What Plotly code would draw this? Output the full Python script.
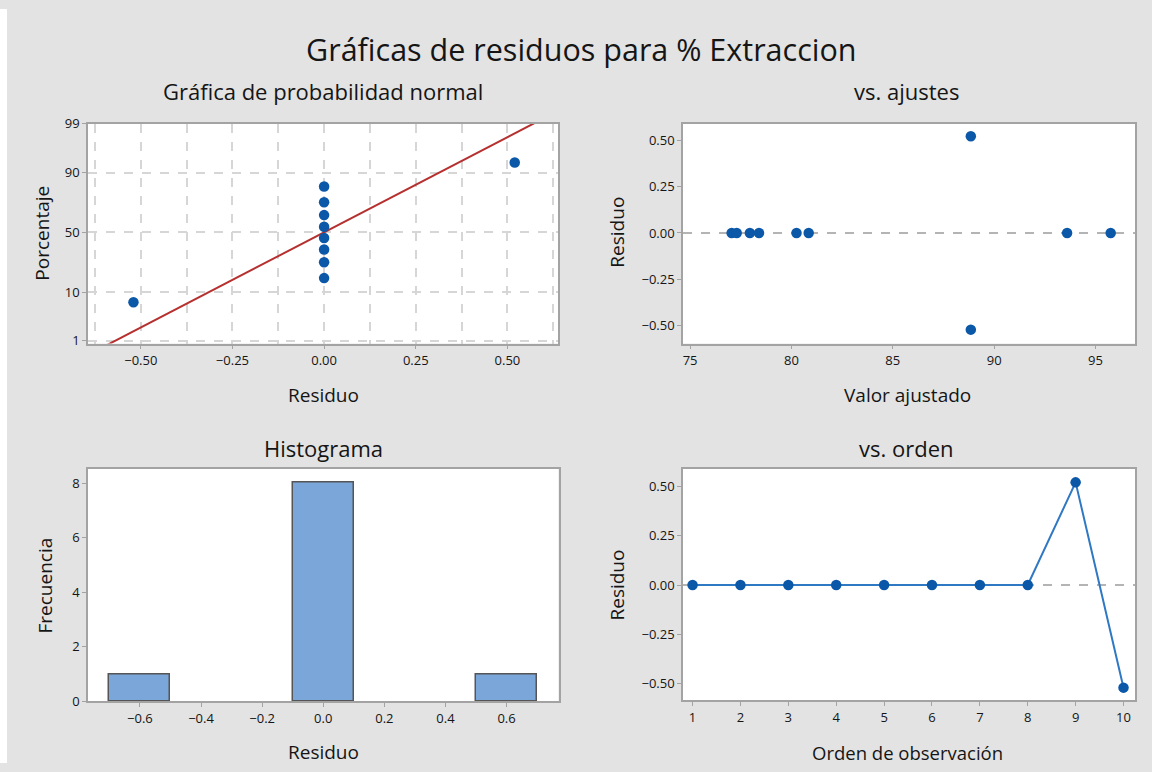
import plotly.graph_objects as go
from statistics import NormalDist

W, H = 1152, 772

# ---------------- data ----------------
# Normal probability plot (sorted residuals and their plotting percentages)
prob_residuals = [-0.52, 0.0, 0.0, 0.0, 0.0, 0.0, 0.0, 0.0, 0.0, 0.52]
prob_percent = [6.7, 16.3, 26.0, 35.6, 45.2, 54.8, 64.4, 74.0, 83.7, 93.3]
prob_ticks = [1, 10, 50, 90, 99]
fit_mean = 0.0
fit_sd = 0.245

# vs. fits / vs. order
obs_order = [1, 2, 3, 4, 5, 6, 7, 8, 9, 10]
fitted = [77.05, 77.3, 77.95, 78.4, 80.25, 80.85, 93.6, 95.75, 88.85, 88.85]
residuals = [0.0, 0.0, 0.0, 0.0, 0.0, 0.0, 0.0, 0.0, 0.52, -0.52]

# Histogram
hist_centers = [-0.6, -0.4, -0.2, 0.0, 0.2, 0.4, 0.6]
hist_counts = [1, 0, 0, 8, 0, 0, 1]
hist_ticks = [-0.6, -0.4, -0.2, 0.0, 0.2, 0.4, 0.6]

# ---------------- styles ----------------
FONT = "Open Sans"
BG = "#E3E3E3"
FRAME = "#A3A3A3"
GRID = "#D6D6D6"
BLUE = "#0B57A8"
LINEBLUE = "#2F78C4"
RED = "#B5302E"
REF = "#B4B4B4"
TXT = "#151515"

nd = NormalDist()
z = lambda p: nd.inv_cdf(p / 100.0)

# the page is shown with a small top offset and slight vertical squeeze;
# convert target screen rows to figure rows
OFF, SC = 8.3, 0.977


def fy(t):
    return (t - OFF) / SC


def dx(a, b):
    return [a / W, b / W]


def dy(top, bottom):
    return [1 - fy(bottom) / H, 1 - fy(top) / H]


fig = go.Figure()

# ---- panel 1: normal probability ----
zline = [-3.0, 3.0]
fig.add_trace(go.Scatter(
    x=[fit_mean + fit_sd * v for v in zline], y=zline, mode="lines",
    line=dict(color=RED, width=2), xaxis="x", yaxis="y", showlegend=False))
fig.add_trace(go.Scatter(
    x=prob_residuals, y=[z(p) for p in prob_percent], mode="markers",
    marker=dict(color=BLUE, size=10.5), xaxis="x", yaxis="y", showlegend=False))

# ---- panel 2: vs fits ----
fig.add_trace(go.Scatter(
    x=fitted, y=residuals, mode="markers",
    marker=dict(color=BLUE, size=10.5), xaxis="x2", yaxis="y2", showlegend=False))

# ---- panel 3: histogram (empty bins are not drawn) ----
hx = [c for c, n in zip(hist_centers, hist_counts) if n > 0]
hy = [n for n in hist_counts if n > 0]
fig.add_trace(go.Bar(
    x=hx, y=hy, width=0.2,
    marker=dict(color="#7BA6DA", line=dict(color="#555555", width=1.5)),
    xaxis="x3", yaxis="y3", showlegend=False))

# ---- panel 4: vs order ----
fig.add_trace(go.Scatter(
    x=obs_order, y=residuals, mode="lines+markers",
    line=dict(color=LINEBLUE, width=2),
    marker=dict(color=BLUE, size=10.5), xaxis="x4", yaxis="y4", showlegend=False))

tickfont = dict(family=FONT, size=13, color=TXT)
common = dict(showline=True, mirror=True, linecolor=FRAME, linewidth=1.5,
              ticks="outside", ticklen=4, tickcolor=FRAME, tickfont=tickfont,
              zeroline=False)
grid = dict(showgrid=True, gridcolor=GRID, griddash="dash", gridwidth=1.5)

fig.update_layout(
    width=W, height=H,
    margin=dict(l=0, r=0, t=0, b=0),
    paper_bgcolor=BG, plot_bgcolor="white",
    font=dict(family=FONT, color=TXT),
    bargap=0,
    xaxis=dict(domain=dx(88, 558), range=[-0.644, 0.638], anchor="y",
               tickvals=[-0.5, -0.25, 0.0, 0.25, 0.5], tickformat=".2f",
               minor=dict(dtick=0.125, tick0=0, showgrid=True, gridcolor=GRID,
                          griddash="dash", gridwidth=1.5),
               **grid, **common),
    yaxis=dict(domain=dy(123, 343), range=[-2.386, 2.33], anchor="x",
               tickvals=[z(p) for p in prob_ticks], ticktext=[str(p) for p in prob_ticks],
               **grid, **common),
    xaxis2=dict(domain=dx(683, 1135), range=[74.65, 96.95], anchor="y2",
                tickvals=[75, 80, 85, 90, 95], showgrid=False, **common),
    yaxis2=dict(domain=dy(123, 343), range=[-0.595, 0.588], anchor="x2",
                tickvals=[-0.5, -0.25, 0, 0.25, 0.5], tickformat=".2f", showgrid=False, **common),
    xaxis3=dict(domain=dx(88, 558.5), range=[-0.77, 0.77], anchor="y3",
                tickvals=hist_ticks, tickformat=".1f", showgrid=False, **common),
    yaxis3=dict(domain=dy(468, 701), range=[0, 8.53], anchor="x3",
                tickvals=[0, 2, 4, 6, 8], showgrid=False, **common),
    xaxis4=dict(domain=dx(683, 1135), range=[0.8, 10.24], anchor="y4",
                tickvals=obs_order, showgrid=False, **common),
    yaxis4=dict(domain=dy(468, 700), range=[-0.585, 0.59], anchor="x4",
                tickvals=[-0.5, -0.25, 0, 0.25, 0.5], tickformat=".2f", showgrid=False, **common),
)

shapes = [
    # white strip at the left of the grey canvas
    dict(type="rect", xref="paper", yref="paper", x0=0, x1=7 / W, y0=0, y1=1,
         fillcolor="white", line=dict(width=0)),
    # zero reference lines
    dict(type="line", xref="x2 domain", yref="y2", x0=0, x1=1, y0=0, y1=0,
         line=dict(color=REF, width=2, dash="dash"), layer="below"),
    dict(type="line", xref="x4 domain", yref="y4", x0=0, x1=1, y0=0, y1=0,
         line=dict(color=REF, width=2, dash="dash"), layer="below"),
]
fig.update_layout(shapes=shapes)


def ann(text, px, py, size, angle=0):
    return dict(text=text, x=px / W, y=1 - fy(py) / H, xref="paper", yref="paper",
                xanchor="center", yanchor="middle", showarrow=False, textangle=angle,
                font=dict(family=FONT, size=size, color=TXT))


fig.update_layout(annotations=[
    ann("Gráficas de residuos para % Extraccion", 581, 48, 30.5),
    ann("Gráfica de probabilidad normal", 323, 90, 22),
    ann("vs. ajustes", 906, 90, 22),
    ann("Histograma", 323, 447, 22),
    ann("vs. orden", 906, 447, 22),
    ann("Residuo", 323, 394, 19),
    ann("Porcentaje", 42, 233, 19, -90),
    ann("Valor ajustado", 907, 394, 19),
    ann("Residuo", 617, 232, 19, -90),
    ann("Residuo", 323, 752, 19),
    ann("Frecuencia", 45, 585, 19, -90),
    ann("Orden de observación", 907, 752, 18.5),
    ann("Residuo", 617, 585, 19, -90),
])

fig.write_html("out.html", config={"displayModeBar": False},
               post_script="document.body.style.margin='0px';document.body.style.overflow='hidden';")
